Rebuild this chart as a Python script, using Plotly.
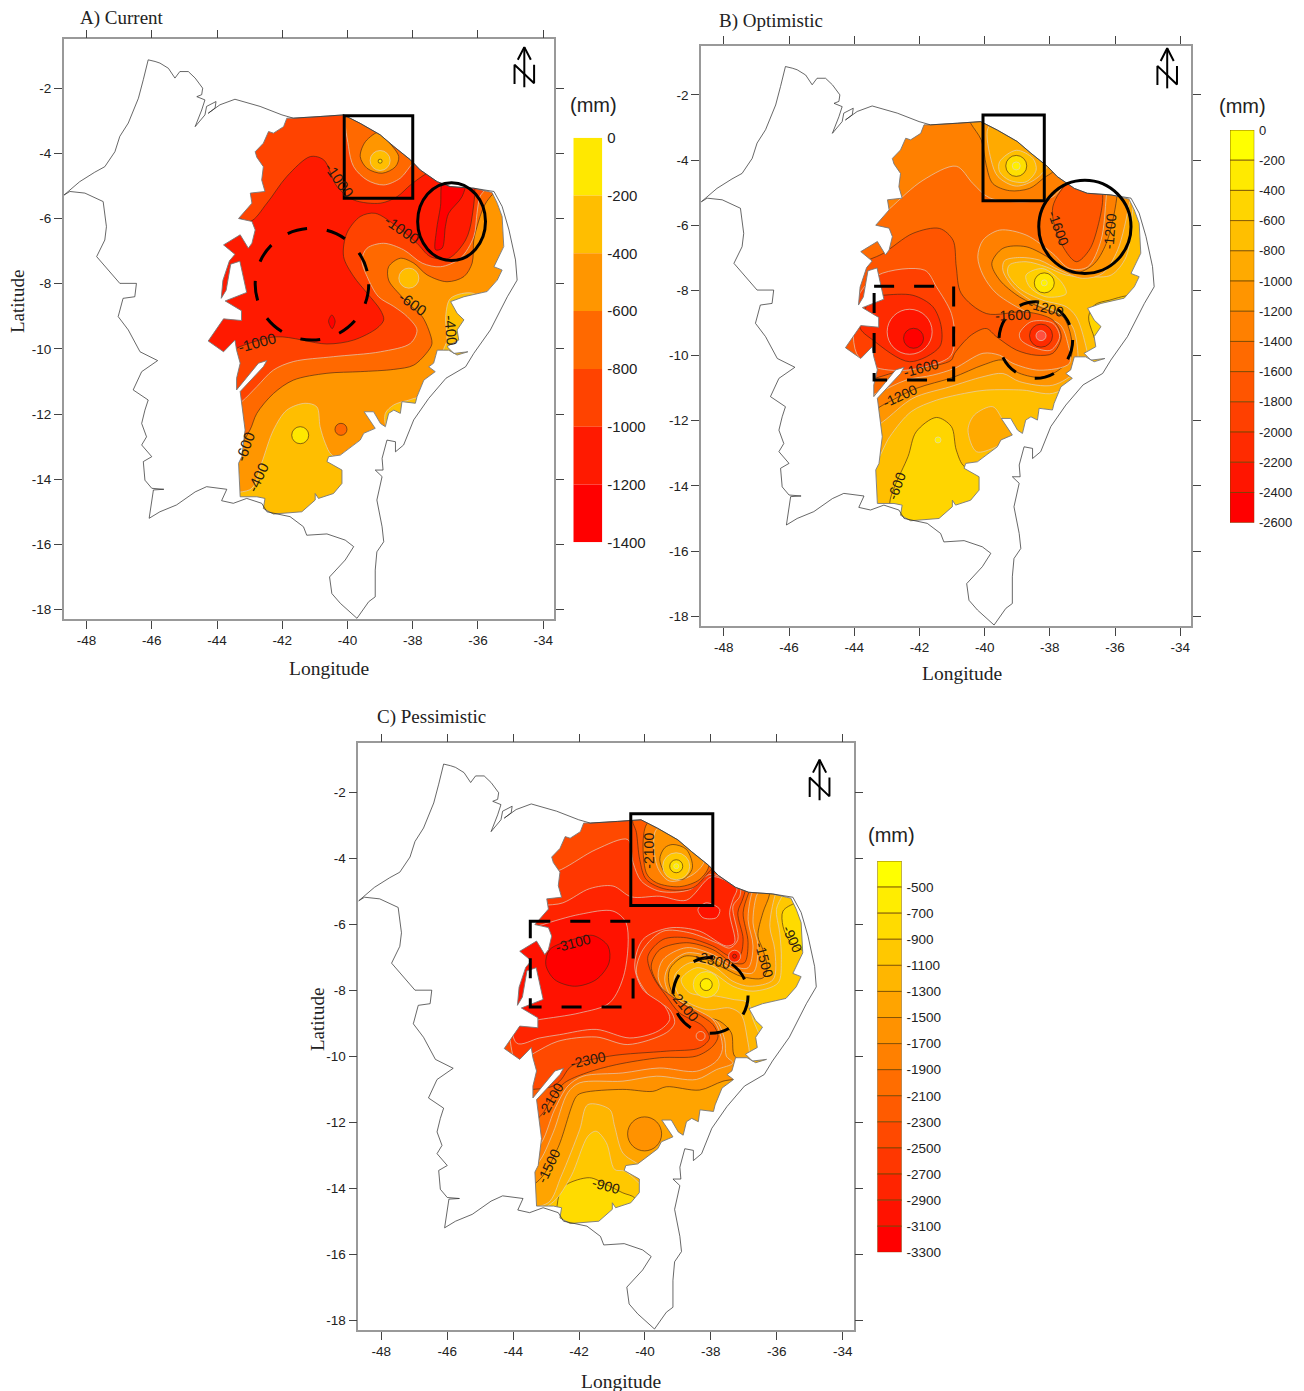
import plotly.graph_objects as go

W, H = 1304, 1391
X_RANGE = [-48.7, -33.67]
Y_RANGE = [-18.3, -0.5]
X_TICKS = [-48, -46, -44, -42, -40, -38, -36, -34]
Y_TICKS = [-2, -4, -6, -8, -10, -12, -14, -16, -18]

# ---------- map geometry (lon, lat) ----------
OUTLINE = [(-48.69,-5.28),(-48.21,-4.87),(-47.75,-4.58),(-47.44,-4.41),(-47.13,-3.95),(-46.98,-3.48),(-46.72,-3.07),(-46.62,-2.82),(-46.41,-2.31),(-46.26,-1.74),(-46.11,-1.13),(-45.9,-1.18),(-45.75,-1.23),(-45.49,-1.39),(-45.29,-1.69),(-45.14,-1.49),(-44.88,-1.49),(-44.67,-1.69),(-44.44,-2.0),(-44.47,-2.2),(-44.62,-2.26),(-44.37,-2.36),(-44.47,-2.67),(-44.67,-3.18),(-44.37,-2.82),(-44.32,-2.56),(-44.03,-2.41),(-44.06,-2.61),(-44.27,-2.77),(-43.91,-2.51),(-43.45,-2.34),(-42.68,-2.56),(-42.01,-2.82),(-41.66,-2.92),(-40.84,-2.87),(-40.12,-2.82),(-39.61,-3.08),(-39.0,-3.43),(-38.58,-3.79),(-38.07,-4.2),(-37.77,-4.51),(-37.25,-4.87),(-36.85,-5.02),(-36.13,-5.07),(-35.51,-5.17),(-35.26,-5.63),(-35.05,-6.35),(-34.85,-7.27),(-34.8,-7.89),(-35.1,-8.4),(-35.62,-9.42),(-36.13,-10.14),(-36.38,-10.55),(-36.98,-10.9),(-37.51,-11.52),(-37.97,-12.18),(-38.28,-12.95),(-38.53,-13.16),(-38.53,-12.85),(-38.79,-12.8),(-38.94,-13.36),(-38.91,-13.72),(-39.15,-13.72),(-38.94,-13.92),(-39.1,-14.64),(-38.94,-15.46),(-38.89,-15.92),(-39.1,-16.23),(-39.15,-16.79),(-39.15,-17.61),(-39.35,-17.76),(-39.71,-18.27),(-40.22,-17.81),(-40.48,-17.51),(-40.55,-17.0),(-40.32,-16.74),(-40.07,-16.48),(-39.81,-16.07),(-40.07,-15.87),(-40.63,-15.68),(-41.25,-15.72),(-41.35,-15.46),(-41.76,-15.15),(-42.47,-15.0),(-42.63,-14.74),(-43.09,-14.59),(-43.5,-14.74),(-43.86,-14.66),(-43.7,-14.31),(-44.32,-14.23),(-44.67,-14.39),(-45.24,-14.79),(-45.75,-15.0),(-46.08,-15.2),(-46.0,-14.64),(-45.95,-14.33),(-45.63,-14.31),(-46.0,-14.28),(-46.21,-14.03),(-46.26,-13.46),(-46.0,-13.31),(-46.31,-12.95),(-46.16,-12.7),(-46.31,-12.29),(-46.21,-11.88),(-46.11,-11.57),(-46.57,-11.26),(-46.31,-10.7),(-45.82,-10.36),(-46.36,-10.09),(-46.72,-9.42),(-47.03,-9.01),(-46.88,-8.45),(-46.52,-8.4),(-46.47,-7.99),(-46.98,-7.99),(-47.69,-7.17),(-47.44,-6.66),(-47.39,-6.25),(-47.49,-5.48),(-48.05,-5.22),(-48.51,-5.17),(-48.69,-5.28)]

REGION = [(-41.86,-2.92),(-41.66,-2.92),(-40.84,-2.87),(-40.12,-2.82),(-39.61,-3.08),(-39.0,-3.43),(-38.58,-3.79),(-38.07,-4.2),(-37.77,-4.51),(-37.25,-4.87),(-36.85,-5.02),(-36.13,-5.07),(-35.57,-5.2),(-35.41,-5.53),(-35.26,-5.94),(-35.21,-6.86),(-35.51,-7.48),(-35.26,-7.58),(-35.41,-7.89),(-35.72,-8.24),(-36.43,-8.4),(-36.84,-8.55),(-36.64,-8.91),(-36.43,-9.11),(-36.64,-9.42),(-36.59,-9.73),(-36.95,-9.93),(-36.74,-10.14),(-36.31,-10.09),(-36.64,-10.19),(-36.9,-10.04),(-37.25,-10.04),(-37.36,-10.44),(-37.51,-10.55),(-37.31,-10.7),(-37.66,-10.96),(-37.87,-11.47),(-37.92,-11.67),(-38.33,-11.62),(-38.38,-11.98),(-38.58,-11.88),(-38.74,-11.98),(-38.84,-12.39),(-38.99,-12.29),(-39.2,-11.93),(-39.49,-11.93),(-39.15,-12.44),(-39.5,-12.59),(-39.61,-12.8),(-40.22,-13.26),(-40.58,-13.31),(-40.63,-13.46),(-40.17,-13.72),(-40.17,-14.13),(-40.43,-14.44),(-40.89,-14.59),(-40.99,-14.44),(-40.99,-14.64),(-41.4,-15.0),(-42.27,-15.07),(-42.58,-14.9),(-42.53,-14.59),(-42.78,-14.54),(-43.29,-14.54),(-43.34,-13.51),(-43.24,-13.31),(-43.14,-12.49),(-43.24,-11.57),(-43.29,-11.31),(-42.58,-10.55),(-42.47,-10.36),(-42.73,-10.44),(-43.19,-11.0),(-43.4,-11.26),(-43.4,-10.9),(-43.29,-10.44),(-43.4,-10.04),(-43.45,-9.73),(-43.8,-10.09),(-44.27,-9.76),(-43.8,-9.08),(-43.25,-9.13),(-43.25,-8.83),(-43.75,-8.53),(-43.09,-8.27),(-43.3,-7.31),(-43.58,-7.4),(-43.72,-8.2),(-43.87,-8.45),(-43.82,-7.9),(-43.62,-7.3),(-43.45,-7.1),(-43.8,-6.81),(-43.29,-6.5),(-43.04,-6.91),(-42.93,-6.76),(-42.83,-6.35),(-42.93,-6.09),(-43.34,-6.0),(-43.19,-5.84),(-42.93,-5.53),(-42.98,-5.22),(-42.53,-5.17),(-42.63,-4.82),(-42.58,-4.41),(-42.78,-4.12),(-42.83,-3.95),(-42.58,-3.69),(-42.42,-3.33),(-42.27,-3.38),(-41.96,-3.18)]

# ---------- panel A ----------
A_LEVELS = [0, -200, -400, -600, -800, -1000, -1200, -1400]
A_COLORS = ["#FFE800", "#FFBE00", "#FF9600", "#FF6900", "#FF4300", "#FF1A00", "#FF0000"]

A_S400 = [(-41.3,-11.67),(-40.94,-11.78),(-40.84,-12.39),(-40.68,-12.9),(-40.48,-13.26),(-39.6,-13.62),(-39.6,-15.66),(-43.7,-15.66),(-43.7,-14.54),(-42.93,-14.28),(-42.63,-13.5),(-42.27,-12.49),(-41.86,-11.88)]
A_E400 = [(-36.13,-8.3),(-36.84,-8.45),(-36.99,-9.01),(-36.95,-9.73),(-37.05,-10.14),(-35.51,-10.65),(-35.51,-9.0)]
A_SE400 = [(-38.84,-11.98),(-38.58,-11.72),(-38.18,-11.59),(-37.77,-11.52),(-37.77,-12.39),(-38.79,-12.39)]
A_600 = [(-35.1,-4.81),(-35.62,-5.33),(-35.82,-5.63),(-36.03,-6.25),(-36.13,-6.66),(-36.18,-7.37),(-36.43,-7.78),(-36.95,-7.94),(-37.56,-7.73),(-37.97,-7.37),(-38.38,-7.22),(-38.74,-7.48),(-38.74,-7.89),(-38.38,-8.35),(-37.97,-8.76),(-37.71,-9.01),(-37.51,-9.42),(-37.41,-9.83),(-37.51,-10.04),(-37.97,-10.5),(-38.58,-10.63),(-39.61,-10.7),(-40.63,-10.75),(-41.66,-10.96),(-42.27,-11.37),(-42.78,-11.98),(-42.99,-12.49),(-43.29,-12.9),(-43.9,-12.9),(-45,-8),(-44,-2),(-38,-2),(-35,-4)]
A_800 = [(-35.62,-4.81),(-35.94,-5.33),(-36.03,-5.84),(-36.13,-6.56),(-36.54,-7.22),(-37.15,-7.48),(-37.71,-7.37),(-38.28,-6.96),(-38.89,-6.76),(-39.4,-6.91),(-39.56,-7.27),(-39.4,-7.78),(-39.05,-8.4),(-38.58,-8.7),(-38.17,-9.01),(-37.87,-9.42),(-38.07,-9.83),(-38.99,-10.09),(-40.43,-10.24),(-41.66,-10.39),(-42.27,-10.65),(-42.78,-11.16),(-43.24,-11.62),(-43.9,-12.08),(-45,-8),(-44,-2),(-38,-2)]
A_1000 = [(-43.7,-5.84),(-42.99,-6.09),(-42.47,-5.53),(-41.86,-4.71),(-41.14,-4.1),(-40.73,-4.2),(-40.32,-5.02),(-39.81,-5.43),(-38.99,-5.53),(-38.48,-5.33),(-38.07,-4.97),(-37.56,-4.61),(-37.05,-4.41),(-36.18,-4.71),(-36.18,-5.94),(-36.38,-6.66),(-36.9,-7.22),(-37.46,-7.17),(-37.87,-6.76),(-38.48,-6.25),(-39.15,-5.84),(-39.61,-5.94),(-40.02,-6.45),(-40.12,-7.17),(-39.81,-7.78),(-39.4,-8.29),(-38.99,-8.81),(-38.89,-9.11),(-39.1,-9.37),(-39.81,-9.73),(-40.63,-9.85),(-42.17,-9.63),(-43.29,-9.93),(-43.9,-10.24),(-44.73,-8.5),(-44.73,-6.45)]
A_1200 = [(-37.05,-4.79),(-36.39,-4.81),(-36.49,-5.33),(-36.9,-5.84),(-37.0,-6.25),(-37.1,-6.91),(-37.3,-6.96),(-37.27,-6.35),(-37.15,-5.63)]
A_1200B = [(-40.48,-8.96),(-40.38,-9.15),(-40.47,-9.38),(-40.58,-9.15)]
A_HOT800 = [(-40.0,-2.67),(-39.97,-3.79),(-39.81,-4.41),(-39.4,-4.82),(-38.89,-4.97),(-38.38,-4.76),(-37.99,-4.3),(-37.66,-4.1),(-38.58,-2.67)]
A_HOT600 = [(-38.99,-3.33),(-39.45,-3.64),(-39.61,-4.1),(-39.4,-4.46),(-38.94,-4.61),(-38.53,-4.41),(-38.43,-4.1),(-38.74,-3.64)]
A_SPOT_LON = [-39.0, -39.0, -38.12, -41.45, -40.2]
A_SPOT_LAT = [-4.22, -4.24, -7.83, -12.65, -12.47]
A_SPOT_VAL = [-300, -100, -300, -100, -700]

# ---------- panel B ----------
B_LEVELS = [0, -200, -400, -600, -800, -1000, -1200, -1400, -1600, -1800, -2000, -2200, -2400, -2600]
B_COLORS = ["#FFFF00", "#FFEA00", "#FFD500", "#FFBF00", "#FFAA00", "#FF9500", "#FF8000", "#FF6A00", "#FF5500", "#FF4000", "#FF2B00", "#FF1500", "#FF0000"]

B_S600 = [(-41.48,-11.9),(-41.02,-12.18),(-40.87,-12.9),(-40.62,-13.41),(-40.05,-13.51),(-40.05,-15.15),(-42.71,-15.35),(-42.91,-14.53),(-42.76,-14.02),(-42.35,-13.1),(-42.1,-12.34)]
B_E600 = [(-36.81,-8.81),(-36.63,-8.45),(-36.17,-8.3),(-35.46,-8.2),(-35.25,-9.32),(-36.38,-9.93),(-36.68,-9.32)]
B_ISLAND = [(-40.51,-12.28),(-40.31,-11.82),(-39.75,-11.57),(-39.44,-11.98),(-39.13,-12.49),(-39.64,-12.8),(-40.25,-12.95)]
B_800 = [(-35.25,-3.19),(-35.41,-4.82),(-35.46,-5.54),(-35.66,-6.97),(-36.12,-7.53),(-36.79,-7.58),(-37.5,-7.53),(-38.11,-7.28),(-38.73,-7.12),(-39.24,-7.22),(-39.29,-7.48),(-38.93,-7.94),(-38.22,-8.3),(-37.5,-8.5),(-37.19,-8.81),(-36.94,-9.53),(-36.84,-10.14),(-37.04,-10.65),(-37.91,-11.16),(-38.83,-11.06),(-39.95,-11.06),(-40.51,-11.14),(-41.48,-11.37),(-42.25,-11.72),(-42.91,-12.49),(-43.37,-13.31),(-43.83,-13.51),(-45,-9),(-44,-2),(-38,-2)]
B_1000 = [(-36,-3),(-35.46,-4.72),(-35.56,-5.33),(-35.92,-6.76),(-36.38,-7.48),(-36.99,-7.63),(-37.7,-7.38),(-38.32,-7.07),(-38.93,-6.99),(-39.39,-7.09),(-39.44,-7.38),(-39.13,-7.89),(-38.42,-8.4),(-37.7,-8.71),(-37.3,-9.12),(-37.14,-9.93),(-37.19,-10.45),(-37.91,-10.91),(-38.93,-10.8),(-39.44,-10.55),(-40.05,-10.65),(-41.07,-10.96),(-42.2,-11.31),(-43.12,-12.03),(-43.83,-12.49),(-45,-9),(-44,-2)]
B_1200 = [(-36.5,-3),(-35.92,-4.21),(-35.95,-5.18),(-36.27,-6.56),(-36.68,-7.22),(-37.3,-7.48),(-37.91,-7.07),(-38.73,-6.66),(-39.44,-6.71),(-39.78,-7.17),(-39.54,-7.68),(-38.93,-8.2),(-38.11,-8.6),(-37.6,-8.81),(-37.35,-9.42),(-37.35,-10.04),(-37.81,-10.5),(-38.32,-10.67),(-39.03,-10.5),(-39.44,-10.14),(-40.05,-10.29),(-40.97,-10.67),(-42.1,-11.01),(-43.12,-11.52),(-43.83,-11.88),(-45,-9),(-44,-2)]
B_1400 = [(-43.93,-6.46),(-42.91,-5.49),(-41.89,-4.62),(-40.87,-4.19),(-40.36,-4.72),(-39.85,-5.16),(-38.73,-5.28),(-37.91,-5.13),(-37.3,-4.52),(-36.22,-4.52),(-36.27,-5.13),(-36.43,-6.46),(-36.84,-7.28),(-37.4,-7.33),(-37.91,-6.87),(-38.73,-6.3),(-39.54,-6.15),(-40.05,-6.46),(-40.21,-6.97),(-40.05,-7.53),(-39.64,-8.09),(-38.62,-8.71),(-37.7,-9.04),(-37.45,-9.63),(-37.4,-10.24),(-38.32,-10.45),(-39.13,-10.24),(-39.54,-9.99),(-40.05,-9.93),(-40.92,-10.39),(-41.59,-10.6),(-42.4,-10.75),(-43.32,-11.16),(-43.93,-11.37),(-45,-8)]
B_1600 = [(-43.93,-7.28),(-43.12,-6.87),(-42.2,-6.25),(-41.38,-6.1),(-40.97,-6.46),(-40.87,-7.28),(-40.72,-8.09),(-39.95,-8.71),(-38.73,-8.66),(-37.91,-8.91),(-37.65,-9.42),(-37.91,-9.93),(-38.42,-9.99),(-39.03,-9.83),(-39.64,-9.42),(-39.95,-9.17),(-40.41,-9.37),(-40.92,-9.93),(-41.02,-10.14),(-41.43,-10.29),(-42.5,-10.45),(-43.37,-10.7),(-43.93,-10.85),(-45,-9)]
B_1600NE = [(-37.35,-4.62),(-37.91,-5.44),(-37.7,-6.46),(-37.19,-7.12),(-36.79,-6.76),(-36.53,-6.05),(-36.38,-5.08),(-36.58,-4.52)]
B_1800W = [(-43.93,-8.3),(-43.27,-7.53),(-41.84,-7.38),(-41.48,-7.89),(-41.02,-8.71),(-40.92,-9.52),(-41.07,-10.04),(-42.4,-10.45),(-43.42,-10.34),(-43.93,-9.93)]
B_1800E = [(-38.93,-9.32),(-38.57,-8.96),(-37.91,-9.01),(-37.7,-9.42),(-37.96,-9.83),(-38.42,-9.78),(-38.88,-9.53)]
B_2000W = [(-43.83,-9.12),(-43.42,-8.2),(-43.12,-8.15),(-42.2,-8.15),(-41.59,-8.5),(-41.33,-9.12),(-41.38,-9.73),(-42.3,-10.19),(-43.42,-9.53)]
B_LOBE = [(-38.73,-7.53),(-38.22,-7.33),(-37.65,-7.74),(-37.5,-8.1),(-38.11,-8.2),(-38.62,-7.89)]
B_H1 = [(-40.51,-2.67),(-40.41,-2.9),(-40.1,-3.39),(-39.95,-4.16),(-39.75,-4.72),(-39.24,-4.94),(-38.62,-4.87),(-38.21,-4.57),(-37.81,-4.21),(-39.34,-2.47)]
B_H2 = [(-39.9,-3.03),(-39.8,-4.0),(-39.59,-4.51),(-39.03,-4.8),(-38.42,-4.57),(-38.06,-4.1),(-38.73,-3.18),(-39.54,-2.78)]
B_H3 = [(-39.54,-4.05),(-39.03,-3.7),(-38.52,-3.95),(-38.42,-4.31),(-38.73,-4.67),(-39.24,-4.62),(-39.54,-4.36)]

# ---------- panel C ----------
C_LEVELS = [-300, -500, -700, -900, -1100, -1300, -1500, -1700, -1900, -2100, -2300, -2500, -2700, -2900, -3100, -3300]
C_COLORS = ["#FFFF00", "#FFED00", "#FFDB00", "#FFC800", "#FFB600", "#FFA400", "#FF9200", "#FF8000", "#FF6D00", "#FF5B00", "#FF4900", "#FF3700", "#FF2400", "#FF1200", "#FF0000"]

C_S900 = [(-42.59,-14.14),(-42.39,-13.89),(-41.68,-13.68),(-41.17,-13.89),(-40.67,-14.14),(-40.31,-14.29),(-40.06,-14.85),(-41.37,-15.46),(-42.59,-15.25)]
C_E900 = [(-35.41,-5.34),(-35.81,-5.59),(-35.81,-6.05),(-35.61,-6.5),(-35.26,-6.76),(-34.7,-6.86),(-34.8,-5.24)]
C_1100 = [(-43.8,-14.85),(-42.79,-14.42),(-42.24,-13.63),(-41.73,-12.42),(-41.48,-12.27),(-41.17,-12.62),(-40.92,-13.43),(-40.62,-13.48),(-39.35,-14.34),(-36.32,-11.31),(-36.27,-10.3),(-36.47,-9.49),(-36.72,-8.88),(-36.87,-8.37),(-37.33,-8.27),(-37.83,-8.17),(-38.64,-8.07),(-38.9,-7.67),(-38.44,-7.31),(-37.94,-7.46),(-37.33,-7.87),(-36.72,-8.02),(-35.96,-7.77),(-35.86,-7.06),(-35.91,-6.25),(-36.01,-5.54),(-35.81,-5.09),(-35.61,-4.73),(-36,-2.5),(-44,-2.5),(-45,-9)]
C_1300 = [(-43.8,-14.5),(-42.94,-14.44),(-42.54,-13.63),(-41.98,-12.22),(-41.73,-11.46),(-41.07,-11.61),(-40.92,-12.12),(-40.67,-12.93),(-40.26,-13.23),(-39.15,-13.84),(-36.32,-11.31),(-36.52,-10.3),(-36.77,-10.09),(-36.87,-9.59),(-37.08,-8.73),(-37.43,-8.53),(-38.14,-8.58),(-38.95,-8.17),(-39.1,-7.56),(-38.64,-7.16),(-37.94,-7.26),(-37.33,-7.72),(-36.82,-7.87),(-36.11,-7.67),(-36.06,-6.76),(-36.21,-6.05),(-36.06,-5.14),(-35.91,-4.73),(-36.5,-2.5),(-44,-2.5),(-45,-9)]
C_1500 = [(-43.8,-14.04),(-43.2,-13.74),(-42.64,-12.77),(-42.08,-11.21),(-41.88,-11.1),(-40.67,-11.0),(-39.76,-11.06),(-39.35,-10.92),(-38.34,-11.02),(-37.63,-10.75),(-36.92,-10.6),(-36.87,-10.2),(-37.28,-9.99),(-37.38,-9.28),(-37.73,-8.93),(-38.24,-8.78),(-38.95,-8.37),(-39.25,-7.87),(-39.25,-7.36),(-38.8,-6.96),(-38.14,-7.06),(-37.53,-7.36),(-37.08,-7.57),(-36.42,-7.62),(-36.29,-7.31),(-36.42,-6.76),(-36.57,-6.35),(-36.42,-5.64),(-36.22,-5.09),(-36.22,-4.63),(-37,-2.5),(-44,-2.5),(-45,-9)]
C_1700 = [(-43.8,-13.53),(-43.25,-13.23),(-42.79,-12.32),(-42.34,-11.1),(-41.98,-10.8),(-40.67,-10.75),(-39.65,-10.6),(-38.44,-10.7),(-37.83,-10.4),(-37.33,-10.2),(-37.53,-9.99),(-37.58,-9.49),(-37.83,-8.93),(-38.34,-8.73),(-39.15,-8.27),(-39.4,-7.67),(-39.25,-7.21),(-38.74,-6.86),(-37.94,-7.01),(-37.33,-7.36),(-36.72,-7.46),(-36.57,-6.65),(-36.72,-5.95),(-36.62,-5.14),(-36.42,-4.73),(-37,-2.5),(-44,-2.5),(-45,-9)]
C_1900 = [(-43.8,-12.93),(-43.22,-12.72),(-42.74,-11.61),(-42.34,-10.9),(-41.88,-10.6),(-40.67,-10.5),(-39.56,-10.35),(-38.44,-10.45),(-37.83,-10.14),(-37.65,-9.79),(-37.73,-9.28),(-37.94,-8.88),(-38.64,-8.48),(-39.4,-8.02),(-39.6,-7.57),(-39.45,-7.06),(-38.74,-6.7),(-37.94,-6.91),(-37.33,-7.26),(-36.87,-7.31),(-36.72,-6.65),(-36.87,-5.85),(-36.77,-5.09),(-36.62,-4.73),(-37.2,-2.5),(-44,-2.5),(-45,-9)]
C_2100 = [(-43.8,-12.17),(-43.17,-11.81),(-42.79,-11.21),(-42.44,-10.8),(-41.78,-10.5),(-40.87,-10.25),(-39.55,-10.04),(-38.44,-9.99),(-37.94,-9.69),(-37.78,-9.39),(-37.94,-9.03),(-38.44,-8.68),(-39.05,-8.27),(-39.55,-7.87),(-39.81,-7.26),(-39.55,-6.76),(-38.74,-6.55),(-37.94,-6.76),(-37.33,-7.16),(-36.98,-7.16),(-36.87,-6.55),(-37.02,-5.64),(-36.87,-5.09),(-36.72,-4.73),(-37.4,-2.5),(-44,-2.5),(-45,-9)]
C_2300 = [(-43.4,-11.0),(-42.79,-10.9),(-42.54,-10.7),(-42.24,-10.3),(-41.07,-9.99),(-39.35,-9.84),(-38.34,-9.74),(-38.04,-9.44),(-38.24,-9.08),(-38.95,-8.68),(-39.35,-8.17),(-39.76,-7.57),(-39.91,-6.96),(-39.45,-6.45),(-38.74,-6.4),(-37.94,-6.65),(-37.43,-6.96),(-37.13,-6.96),(-37.02,-6.45),(-37.18,-5.64),(-37.02,-5.19),(-36.92,-4.73),(-37.5,-2.5),(-44,-2.5),(-45,-9),(-44.5,-11)]
C_2500 = [(-43.9,-10.2),(-43.35,-9.89),(-42.64,-9.54),(-41.48,-9.41),(-40.52,-9.64),(-39.35,-9.28),(-39.1,-8.98),(-39.25,-8.58),(-39.86,-8.17),(-40.26,-7.46),(-40.06,-6.76),(-39.45,-6.2),(-38.64,-6.25),(-37.83,-6.55),(-37.43,-6.71),(-37.18,-6.45),(-37.33,-5.44),(-37.12,-5.14),(-37.12,-4.83),(-37.53,-4.63),(-38.04,-4.48),(-38.64,-4.94),(-39.55,-4.99),(-40.11,-4.68),(-40.36,-4.12),(-40.52,-3.42),(-41.48,-3.72),(-42.54,-4.33),(-43.8,-4.83)]
C_2700 = [(-43.9,-9.59),(-43.2,-9.44),(-42.59,-9.34),(-41.48,-9.18),(-40.46,-9.44),(-39.6,-9.23),(-39.25,-8.88),(-39.4,-8.48),(-40.06,-7.97),(-40.31,-7.26),(-40.06,-6.45),(-39.25,-6.1),(-38.34,-6.2),(-37.53,-6.65),(-37.28,-6.55),(-37.43,-5.64),(-37.33,-5.24),(-37.21,-4.91),(-37.43,-4.73),(-37.98,-4.55),(-38.74,-5.26),(-39.55,-5.14),(-40.41,-5.16),(-40.97,-4.83),(-41.68,-4.91),(-42.49,-5.34),(-43.8,-5.64)]
C_2900 = [(-43.8,-6.25),(-43.1,-6.0),(-41.98,-5.69),(-40.97,-5.59),(-40.57,-5.95),(-40.62,-7.46),(-41.07,-8.37),(-41.98,-8.68),(-43.2,-8.88),(-43.8,-8.98)]
C_3100 = [(-42.89,-6.76),(-42.18,-6.45),(-41.58,-6.33),(-41.12,-6.65),(-41.09,-7.16),(-41.48,-7.67),(-42.13,-7.87),(-42.74,-7.67),(-43.01,-7.21)]
C_OVAL = [(-38.39,-5.54),(-38.14,-5.34),(-37.73,-5.54),(-37.83,-5.79),(-38.24,-5.79)]
C_H0 = [(-40.36,-2.81),(-40.26,-3.2),(-40.16,-4.02),(-39.96,-4.63),(-39.35,-4.93),(-38.54,-4.88),(-38.04,-4.38),(-37.83,-4.13),(-39.35,-2.81)]
C_H1 = [(-39.91,-2.91),(-39.96,-4.43),(-39.65,-4.73),(-38.95,-4.85),(-38.34,-4.63),(-38.06,-4.18),(-38.74,-3.11)]
C_H2 = [(-39.65,-3.11),(-39.63,-4.23),(-39.25,-4.68),(-38.54,-4.48),(-38.19,-4.02),(-38.9,-3.11)]
C_H3 = [(-39.55,-4.02),(-39.35,-4.48),(-38.85,-4.63),(-38.56,-4.28),(-38.74,-3.72),(-39.15,-3.57),(-39.4,-3.67)]

NORTH_DX = [0, 0, None, -0.2, 0, 0.2, None, -0.3, -0.3, 0.3, 0.3]
NORTH_DY = [-1.23, 0, None, -0.39, 0, -0.39, None, -1.13, -0.54, -1.11, -0.54]

LIGHT = "rgba(222,210,195,0.85)"
DARK = "rgba(70,40,20,0.8)"
SERIF = "Liberation Serif"
SANS = "Liberation Sans"

fig = go.Figure()


def band(n, pts, color, edge=None, spline=True):
    pts = list(pts) + [pts[0]]
    fig.add_trace(go.Scatter(
        x=[p[0] for p in pts], y=[p[1] for p in pts], xaxis=f"x{n}", yaxis=f"y{n}",
        mode="lines", fill="toself", fillcolor=color, hoverinfo="skip", showlegend=False,
        line=dict(color=edge or "rgba(0,0,0,0)", width=0.8 if edge else 0,
                  shape="spline" if spline else "linear", smoothing=0.9)))


def spot(n, lon, lat, size, color, edge):
    fig.add_trace(go.Scatter(
        x=[lon], y=[lat], xaxis=f"x{n}", yaxis=f"y{n}", mode="markers", hoverinfo="skip", showlegend=False,
        marker=dict(size=size, color=color, line=dict(color=edge, width=0.8))))


def finish_map(n, north_lon, north_lat):
    x0, x1, y0, y1 = -50, -32, -20, 1
    rect = [(x0, y0), (x1, y0), (x1, y1), (x0, y1), (x0, y0)]
    hole = REGION + [REGION[0]]
    mask = rect + hole + [(x0, y0)]
    fig.add_trace(go.Scatter(
        x=[p[0] for p in mask], y=[p[1] for p in mask], xaxis=f"x{n}", yaxis=f"y{n}", mode="lines",
        fill="toself", fillcolor="white", line=dict(width=0, color="white"), hoverinfo="skip", showlegend=False))
    for pts, col, wd in ((hole, "rgba(120,120,120,0.9)", 1.0), (OUTLINE, "rgba(45,45,45,0.9)", 0.8)):
        fig.add_trace(go.Scatter(
            x=[p[0] for p in pts], y=[p[1] for p in pts], xaxis=f"x{n}", yaxis=f"y{n}", mode="lines",
            line=dict(color=col, width=wd), hoverinfo="skip", showlegend=False))
    fig.add_trace(go.Scatter(
        x=[None if d is None else north_lon + d for d in NORTH_DX],
        y=[None if d is None else north_lat + d for d in NORTH_DY],
        xaxis=f"x{n}", yaxis=f"y{n}", mode="lines", line=dict(color="black", width=2),
        hoverinfo="skip", showlegend=False))


# Panel A
AC = A_COLORS
band(1, REGION, AC[2], spline=False)
band(1, A_S400, AC[1], LIGHT)
band(1, A_E400, AC[1], LIGHT)
band(1, A_SE400, AC[1], LIGHT)
band(1, A_600, AC[3], DARK)
band(1, A_800, AC[4], LIGHT)
band(1, A_1000, AC[5], DARK)
band(1, A_1200, AC[6], DARK)
band(1, A_1200B, AC[6], DARK)
band(1, A_HOT800, AC[3], LIGHT)
band(1, A_HOT600, AC[2], DARK)
for lon, lat, val, size, edge in zip(A_SPOT_LON, A_SPOT_LAT, A_SPOT_VAL, [20, 4, 20, 17, 12], [LIGHT, DARK, LIGHT, DARK, DARK]):
    spot(1, lon, lat, size, AC[int(-val // 200)], edge)
finish_map(1, -34.58, -0.74)

# Panel B
BC = B_COLORS
band(2, REGION, BC[3], spline=False)
band(2, B_S600, BC[2], DARK)
band(2, B_E600, BC[2], DARK)
band(2, B_ISLAND, BC[4], LIGHT)
band(2, B_800, BC[4], LIGHT)
band(2, B_1000, BC[5], LIGHT)
band(2, B_1200, BC[6], DARK)
band(2, B_LOBE, "#FFD000", LIGHT)
band(2, B_1400, BC[7], LIGHT)
band(2, B_1600, BC[8], DARK)
band(2, B_1600NE, BC[8], DARK)
band(2, B_1800W, BC[9], LIGHT)
band(2, B_1800E, BC[9], LIGHT)
band(2, B_2000W, BC[10], DARK)
band(2, B_H1, BC[5], DARK)
band(2, B_H2, BC[4], LIGHT)
band(2, B_H3, BC[3], LIGHT)
for lon, lat, size, color, edge in (
    (-42.3, -9.27, 45, BC[11], LIGHT), (-42.18, -9.47, 20, BC[12], DARK),
    (-38.27, -9.39, 23, BC[10], DARK), (-38.27, -9.39, 10, "#FF5040", LIGHT),
    (-38.17, -7.77, 20, "#FFE800", DARK), (-38.17, -7.77, 6, "#FFF400", LIGHT),
    (-39.03, -4.18, 21, "#FFE000", DARK), (-39.03, -4.18, 8, "#FFF000", LIGHT),
    (-41.43, -12.59, 6, "#FFF000", LIGHT)):
    spot(2, lon, lat, size, color, edge)
finish_map(2, -34.4, -0.57)

# Panel C
CC = C_COLORS
band(3, REGION, CC[3], spline=False)
band(3, C_S900, CC[2], DARK)
band(3, C_E900, CC[2], DARK)
band(3, C_1100, CC[4], LIGHT)
band(3, C_1300, CC[5], LIGHT)
band(3, C_1500, CC[6], DARK)
band(3, C_1700, CC[7], LIGHT)
band(3, C_1900, CC[8], LIGHT)
band(3, C_2100, CC[9], DARK)
band(3, C_2300, CC[10], DARK)
band(3, C_2500, CC[11], LIGHT)
band(3, C_2700, CC[12], LIGHT)
band(3, C_2900, CC[13], LIGHT)
band(3, C_3100, CC[14], DARK)
band(3, C_OVAL, CC[13], LIGHT)
band(3, C_H0, CC[9], DARK)
band(3, C_H1, CC[7], DARK)
band(3, C_H2, CC[6], LIGHT)
band(3, C_H3, CC[5], DARK)
for lon, lat, size, color, edge in (
    (-39.05, -4.23, 27, CC[3], LIGHT), (-39.05, -4.23, 13, "#FFE000", DARK), (-39.05, -4.23, 5, "#FFF400", LIGHT),
    (-38.14, -7.82, 26, CC[2], LIGHT), (-38.14, -7.82, 12, CC[1], DARK),
    (-40.01, -12.35, 34, CC[6], DARK), (-37.28, -6.96, 12, CC[12], LIGHT), (-37.28, -6.96, 4, CC[13], DARK),
    (-38.31, -9.38, 9, CC[10], LIGHT)):
    spot(3, lon, lat, size, color, edge)
finish_map(3, -34.7, -1.0)


# Legends
def legend(n, levels, colors, sep):
    fig.add_trace(go.Bar(
        x=[0] * len(colors), y=[b - a for a, b in zip(levels[:-1], levels[1:])], base=levels[:-1],
        xaxis=f"x{n}", yaxis=f"y{n}", width=1, hoverinfo="skip", showlegend=False,
        marker=dict(color=colors, line=dict(color=sep, width=1 if sep else 0))))


legend(4, A_LEVELS, A_COLORS, None)
legend(5, B_LEVELS, B_COLORS, "rgba(110,70,0,0.75)")
legend(6, C_LEVELS, C_COLORS, "rgba(110,70,0,0.75)")

layout = dict(width=W, height=H, margin=dict(l=0, r=0, t=0, b=0), paper_bgcolor="white", plot_bgcolor="white",
              showlegend=False, barmode="overlay", font=dict(family=SANS, color="#222"))

FRAMES = {1: (63.7, 554, 39.3, 619.3), 2: (701, 1191, 46, 626), 3: (358.3, 853.5, 743.3, 1330)}
for n, (l, r, t, b) in FRAMES.items():
    ax = dict(showgrid=False, zeroline=False, showline=True, linecolor="#999", linewidth=1.5, mirror="ticks",
              ticks="outside", ticklen=8, tickwidth=1, tickcolor="#444", automargin=False,
              tickfont=dict(family=SANS, size=13.5, color="#222"))
    layout[f"xaxis{n}"] = dict(ax, domain=[l / W, r / W], range=X_RANGE, tickvals=X_TICKS,
                               ticktext=[str(v) for v in X_TICKS], anchor=f"y{n}")
    layout[f"yaxis{n}"] = dict(ax, domain=[1 - b / H, 1 - t / H], range=Y_RANGE, tickvals=Y_TICKS,
                               ticktext=[str(v) for v in Y_TICKS], anchor=f"x{n}")

LEG_FRAMES = {4: (573.3, 602.3, 137.7, 542.3, A_LEVELS, 15), 5: (1230, 1254.3, 130, 522.7, B_LEVELS, 13),
              6: (877.3, 901.7, 861, 1252.3, C_LEVELS, 13.5)}
for n, (l, r, t, b, lv, fs) in LEG_FRAMES.items():
    layout[f"xaxis{n}"] = dict(domain=[l / W, r / W], range=[-0.5, 0.5], visible=False, anchor=f"y{n}", automargin=False)
    vals = lv[1:] if n == 6 else lv
    layout[f"yaxis{n}"] = dict(domain=[1 - b / H, 1 - t / H], range=[lv[-1], lv[0]], side="right", anchor=f"x{n}",
                               tickvals=vals, ticktext=[str(v) for v in vals], showgrid=False, zeroline=False,
                               showline=False, ticks="outside", ticklen=1, tickcolor="rgba(0,0,0,0)", automargin=False,
                               tickfont=dict(family=SANS, size=fs, color="#222"))

annotations = []
for text, px, py, ang, fam, size, anchor in (
    ("A) Current", 78, 18, 0, SERIF, 19, "left"), ("B) Optimistic", 717, 21, 0, SERIF, 19, "left"),
    ("C) Pessimistic", 375, 717, 0, SERIF, 19, "left"),
    ("Longitude", 329, 668, 0, SERIF, 19.5, "center"), ("Longitude", 962, 673, 0, SERIF, 19.5, "center"),
    ("Longitude", 621, 1381, 0, SERIF, 19.5, "center"),
    ("Latitude", 18, 302, -90, SERIF, 19, "center"), ("Latitude", 317, 1020, -90, SERIF, 19, "center"),
    ("(mm)", 593, 105, 0, SANS, 20, "center"), ("(mm)", 1242, 106, 0, SANS, 20, "center"),
    ("(mm)", 891, 835, 0, SANS, 20, "center")):
    annotations.append(dict(text=text, xref="paper", yref="paper", x=px / W, y=1 - py / H, textangle=ang,
                            xanchor=anchor, yanchor="middle", showarrow=False,
                            font=dict(family=fam, size=size, color="#222")))

CONTOUR_LABELS = [
    (1, "-1000", -40.27, -4.81, 55), (1, "-1000", -38.33, -6.33, 35), (1, "-600", -38.0, -8.6, 35),
    (1, "-400", -36.84, -9.42, 85), (1, "-1000", -42.78, -9.81, -15), (1, "-600", -43.14, -13.0, -70),
    (1, "-400", -42.75, -13.95, -65),
    (2, "-1600", -37.75, -6.1, 70), (2, "-1200", -36.17, -6.2, -85), (2, "-1600", -39.13, -8.76, -2),
    (2, "-1200", -38.11, -8.55, 15), (2, "-1600", -41.94, -10.37, -15), (2, "-1200", -42.6, -11.24, -25),
    (2, "-600", -42.71, -13.99, -70),
    (3, "-2100", -39.86, -3.77, -90), (3, "-3100", -42.18, -6.55, -15), (3, "-2300", -37.94, -7.06, 15),
    (3, "-1500", -36.37, -7.06, 75), (3, "-900", -35.53, -6.45, 65), (3, "-2100", -38.8, -8.48, 50),
    (3, "-2300", -41.73, -10.11, -12), (3, "-2100", -42.84, -11.3, -60), (3, "-1500", -42.92, -13.33, -65),
    (3, "-900", -41.17, -13.94, 15),
]
for n, text, lon, lat, ang in CONTOUR_LABELS:
    annotations.append(dict(text=text, xref=f"x{n}", yref=f"y{n}", x=lon, y=lat, textangle=ang, showarrow=False,
                            font=dict(family=SANS, size=15 if n == 1 else 14, color="#2a1a10")))
layout["annotations"] = annotations

SOLID_RECTS = [(1, -40.1, -38.0, -2.85, -5.38), (2, -40.05, -38.17, -2.62, -5.25), (3, -40.43, -37.94, -2.64, -5.42)]
SOLID_CIRCLES = [(1, -37.85, -35.77, -4.9, -7.29), (2, -38.34, -35.51, -4.62, -7.48)]
DASH_RECTS = [(2, -43.39, -40.95, -7.87, -10.75), (3, -43.48, -40.36, -5.9, -8.5)]
DASH_CIRCLES = [(1, -42.83, -39.35, -6.3, -9.73), (2, -39.56, -37.3, -8.35, -10.7), (3, -39.15, -36.87, -7.0, -9.3)]
shapes = []
for kind, items, dash in (("rect", SOLID_RECTS, "solid"), ("circle", SOLID_CIRCLES, "solid"),
                          ("rect", DASH_RECTS, "20px,20px"), ("circle", DASH_CIRCLES, "20px,20px")):
    for n, x0, x1, y0, y1 in items:
        shapes.append(dict(type=kind, xref=f"x{n}", yref=f"y{n}", x0=x0, x1=x1, y0=y0, y1=y1,
                           line=dict(color="black", width=3, dash=dash)))
layout["shapes"] = shapes

fig.update_layout(**layout)
fig.write_html("out.html", config=dict(displayModeBar=False),
               post_script="document.body.style.margin='0';document.body.style.overflow='hidden';")
